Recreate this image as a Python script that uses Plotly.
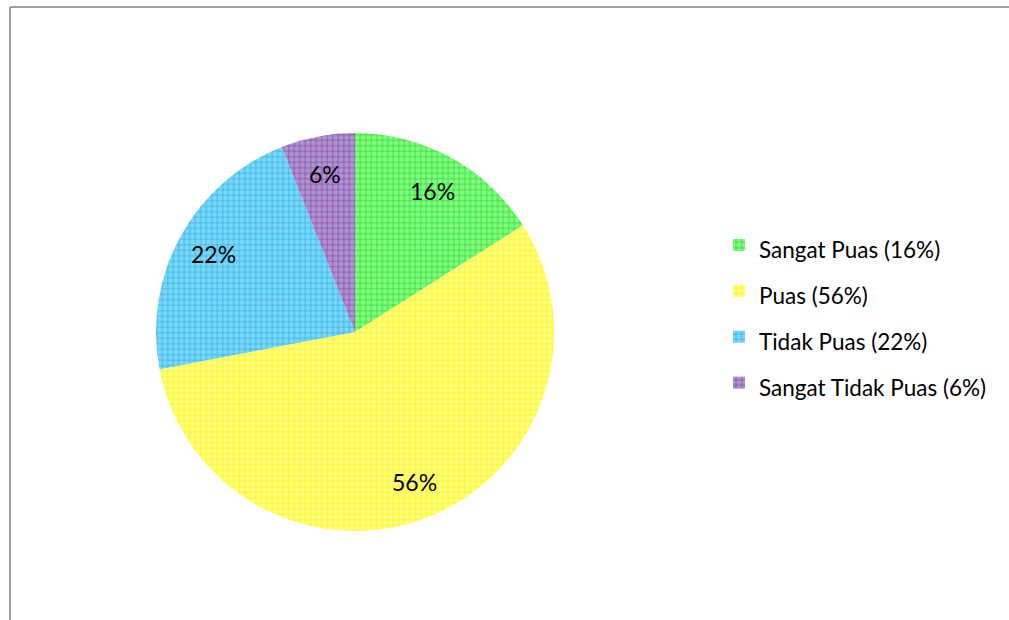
import math
import plotly.graph_objects as go

categories = ["Sangat Puas", "Puas", "Tidak Puas", "Sangat Tidak Puas"]
values = [16, 56, 22, 6]
legend_labels = ["Sangat Puas (16%)", "Puas (56%)", "Tidak Puas (22%)", "Sangat Tidak Puas (6%)"]

fill_colors = ["#86F986", "#FFFF80", "#7FD6F8", "#B293D0"]
line_colors = ["#10E010", "#FFEE00", "#14B0E6", "#7440A4"]

W, H = 1009, 620
cx, cy, R = 355, 332, 199
label_r = 0.81

fig = go.Figure(go.Pie(
    labels=["<span style='font-size:22.5px'>%s</span>" % t for t in legend_labels],
    values=values,
    sort=False,
    direction="clockwise",
    rotation=0,
    textinfo="none",
    marker=dict(
        colors=fill_colors,
        line=dict(width=0),
        pattern=dict(shape="+", fgcolor=line_colors, bgcolor=fill_colors,
                     size=5.5, solidity=0.22, fillmode="replace"),
    ),
    hoverinfo="skip",
    domain=dict(x=[(cx - R) / W, (cx + R) / W], y=[1 - (cy + R) / H, 1 - (cy - R) / H]),
))

# data labels at the mid-angle of each slice
total = sum(values)
annotations = []
cum = 0
for v in values:
    mid = (cum + v / 2) / total * 2 * math.pi
    cum += v
    px = cx + label_r * R * math.sin(mid)
    py = cy - label_r * R * math.cos(mid)
    annotations.append(dict(
        x=px / W, y=1 - py / H, xref="paper", yref="paper",
        text="%d%%" % v, showarrow=False,
        font=dict(size=23, family="Lato", color="black"),
        xanchor="center", yanchor="middle",
    ))

fig.update_layout(
    width=W, height=H,
    margin=dict(l=0, r=0, t=0, b=0),
    paper_bgcolor="white",
    font=dict(family="Lato", color="black"),
    annotations=annotations,
    legend=dict(
        x=719 / W, xanchor="left", y=1 - 314 / H, yanchor="middle",
        font=dict(size=33, family="Lato", color="black"),
        bgcolor="rgba(0,0,0,0)",
        itemclick=False,
    ),
    shapes=[
        dict(type="line", xref="paper", yref="paper", x0=10 / W, x1=1.0, y0=1 - 7 / H, y1=1 - 7 / H,
             line=dict(color="#A0A0A0", width=2)),
        dict(type="line", xref="paper", yref="paper", x0=10 / W, x1=10 / W, y0=1 - 7 / H, y1=0,
             line=dict(color="#A0A0A0", width=2)),
    ],
)

fig.write_html(
    "out.html", config={"displayModeBar": False},
    post_script=("document.body.style.margin='0';document.body.style.background='white';"
                 "document.body.style.overflow='hidden';"
                 "document.documentElement.style.overflow='hidden';"),
)
